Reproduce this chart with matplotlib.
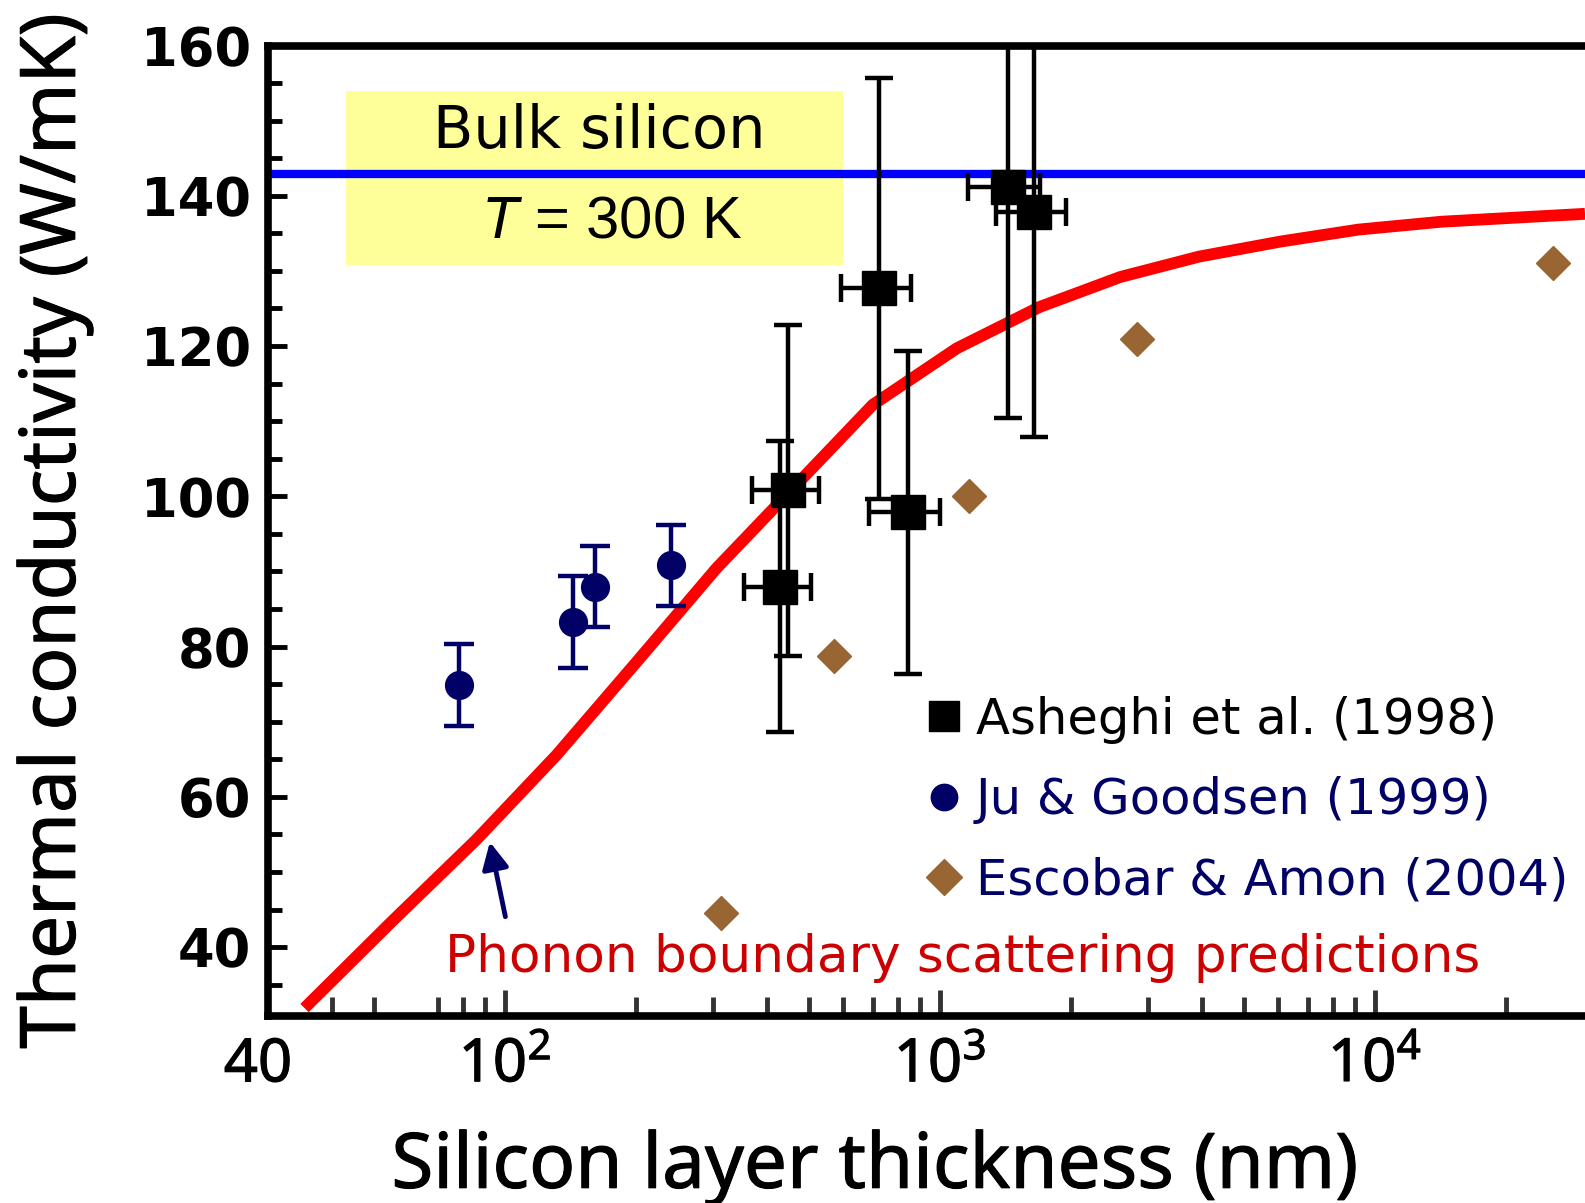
import matplotlib
matplotlib.use("Agg")
import matplotlib.pyplot as plt
import matplotlib.patheffects as pe
from matplotlib.lines import Line2D
from matplotlib.patches import Rectangle
from matplotlib.ticker import FixedLocator, FixedFormatter, NullFormatter

# Asheghi et al. (1998)
ash_x = [429, 448, 725, 844, 1432, 1645]
ash_y = [88.0, 100.8, 127.7, 97.9, 141.2, 137.8]
ash_xerr = [75, 78, 133, 156, 270, 300]
ash_yerr = [19.4, 22.0, 28.0, 21.5, 30.8, 29.9]

# Ju & Goodsen (1999)
ju_x = [78.5, 143, 161, 241]
ju_y = [74.9, 83.3, 88.0, 90.8]
ju_yerr = [5.5, 6.1, 5.4, 5.4]

# Escobar & Amon (2004)
esc_x = [313, 570, 1167, 2840, 25650]
esc_y = [44.6, 78.7, 100.0, 120.9, 131.0]

# phonon boundary scattering prediction
model_x = [34.6, 54.9, 85.9, 131.5, 201, 306, 701, 1093, 1694,
           2600, 3937, 6053, 9160, 14220, 30400]
model_y = [31.9, 43.4, 54.3, 65.6, 78.0, 90.4, 112.2, 119.7, 125.2,
           129.2, 131.9, 133.9, 135.5, 136.55, 137.6]

bulk_k = 142.9

xmajor = [1e2, 1e3, 1e4]
xmajor_labels = [r'$10^{2}$', r'$10^{3}$', r'$10^{4}$']
xminor = [40, 50, 70, 80, 90, 200, 300, 400, 500, 600, 700, 800, 900,
          2000, 3000, 4000, 5000, 6000, 7000, 8000, 9000, 20000]
yticks = [40, 60, 80, 100, 120, 140, 160]

navy = '#000066'
brown = '#996633'

plt.rcParams['font.family'] = ['DejaVu Sans']
plt.rcParams['mathtext.fontset'] = 'custom'
plt.rcParams['mathtext.rm'] = 'Noto Sans'
plt.rcParams['mathtext.it'] = 'Liberation Sans:italic'
plt.rcParams['mathtext.bf'] = 'Noto Sans:bold'

# regular Noto Sans, thickened a little to get a semibold look
heavy = [pe.withStroke(linewidth=0.8, foreground='black')]
label_font = dict(family=['Noto Sans', 'DejaVu Sans'])

fig = plt.figure(figsize=(15.85, 12.03), dpi=100)
ax = fig.add_axes([0.16909, 0.15544, 0.83091, 0.80673])
ax.set_xscale('log')
ax.set_xlim(28.52, 30400)
ax.set_ylim(30.84, 160)

# bulk silicon box and line
ax.add_patch(Rectangle((43.1, 130.8), 599 - 43.1, 154.0 - 130.8,
                       facecolor='#ffff99', edgecolor='none', zorder=1))
ax.axhline(bulk_k, color='#0000ff', lw=6, zorder=2)
ax.text(165, 146.4, 'Bulk silicon', ha='center', va='baseline',
        fontsize=42.5, zorder=3)
ax.text(176, 134.4, r'$T$ = 300 K', ha='center', va='baseline',
        fontsize=43, family=['Liberation Sans'], zorder=3)

# model curve
ax.plot(model_x, model_y, color='#ff0000', lw=8.5, solid_capstyle='butt',
        solid_joinstyle='miter', zorder=3)

# data
ax.errorbar(ju_x, ju_y, yerr=ju_yerr, fmt='o', color=navy, ms=20,
            elinewidth=3.2, capsize=10.8, capthick=3.2, zorder=4)
ax.errorbar(ash_x, ash_y, xerr=ash_xerr, yerr=ash_yerr, fmt='s',
            color='black', ms=24, elinewidth=3.2, capsize=10, capthick=3.2,
            zorder=5)
ax.plot(esc_x, esc_y, 'D', color=brown, ms=17.5, zorder=4)

# annotation
ax.annotate('', xy=(92.3, 54.0), xytext=(100.2, 44.06),
            arrowprops=dict(arrowstyle='-|>', color=navy, lw=3.5,
                            mutation_scale=40, shrinkA=0, shrinkB=0))
ax.text(72.8, 36.7, 'Phonon boundary scattering predictions', color='#cc0000',
        fontsize=37.2, ha='left', va='baseline')

# legend
handles = [Line2D([], [], ls='none', marker='s', color='black', ms=22),
           Line2D([], [], ls='none', marker='o', color=navy, ms=19),
           Line2D([], [], ls='none', marker='D', color=brown, ms=18)]
labels = ['Asheghi et al. (1998)', 'Ju & Goodsen (1999)', 'Escobar & Amon (2004)']
leg = ax.legend(handles, labels, loc='upper left', bbox_to_anchor=(0.498, 0.33),
                frameon=False, borderpad=0, borderaxespad=0, handlelength=0.8,
                handletextpad=0.25, labelspacing=0.65, fontsize=35.7,
                labelcolor=['black', navy, navy])

# axes styling
for side in ['left', 'bottom', 'top']:
    ax.spines[side].set_linewidth(5.5)
ax.spines['right'].set_visible(False)

ax.xaxis.set_major_locator(FixedLocator(xmajor))
ax.xaxis.set_major_formatter(FixedFormatter(xmajor_labels))
ax.xaxis.set_minor_locator(FixedLocator(xminor))
ax.xaxis.set_minor_formatter(NullFormatter())
ax.tick_params(axis='x', which='major', direction='in', length=19, width=3.5,
               color='#333333', pad=14, labelsize=43)
ax.tick_params(axis='x', which='minor', direction='in', length=14, width=3.5,
               color='#333333')
for lbl in ax.get_xticklabels():
    lbl.set_path_effects(heavy)
ax.text(-0.0076, -0.02, '40', transform=ax.transAxes, ha='center', va='top',
        fontsize=43, path_effects=heavy, **label_font)

ax.set_yticks(yticks)
ax.set_yticks(range(35, 160, 5), minor=True)
ax.tick_params(axis='y', which='major', direction='in', length=14, width=3.5,
               color='black', pad=12, labelsize=38)
ax.tick_params(axis='y', which='minor', direction='in', length=10, width=3.5,
               color='black')
for lbl in ax.get_yticklabels():
    lbl.set_fontweight('bold')
ax.tick_params(top=False, right=False, which='both')

ax.set_xlabel('Silicon layer thickness (nm)', fontsize=55, path_effects=heavy,
              **label_font)
ax.xaxis.label.set_va('baseline')
ax.xaxis.set_label_coords(0.461, -0.177)
ax.set_ylabel('Thermal conductivity (W/mK)', fontsize=55, path_effects=heavy,
              **label_font)
ax.yaxis.set_label_coords(-0.133, 0.5)

fig.savefig('out.png', dpi=100)
